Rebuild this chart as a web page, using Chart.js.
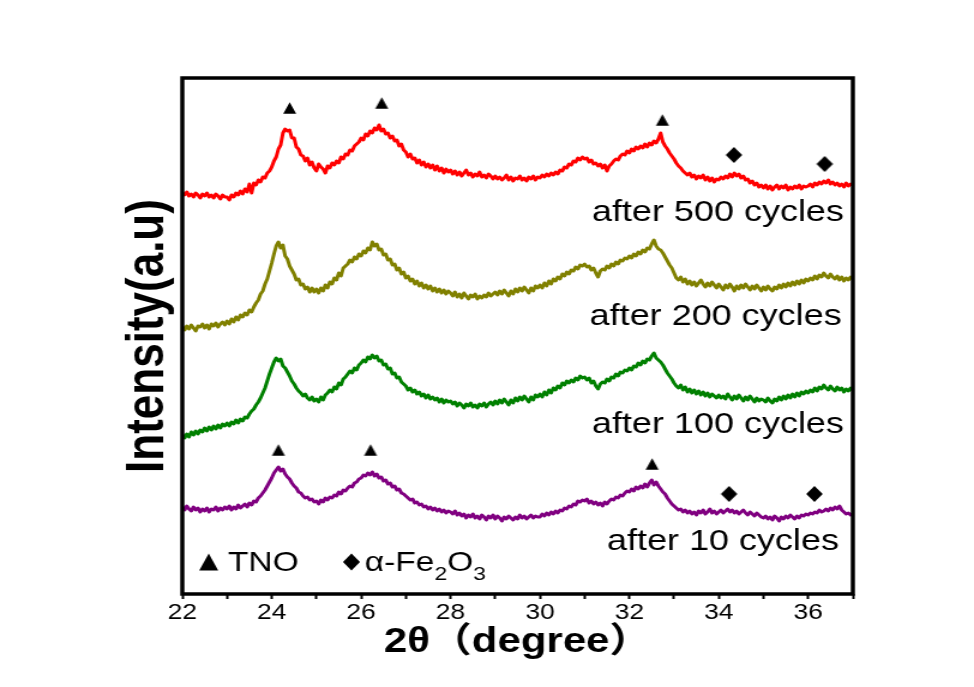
<!DOCTYPE html>
<html>
<head>
<meta charset="utf-8">
<script src="https://cdn.jsdelivr.net/npm/chart.js@4/dist/chart.umd.min.js"></script>
<style>
  html, body { margin: 0; padding: 0; background: #fff; overflow: hidden; }
  #xrd { display: block; }
</style>
</head>
<body>
<!-- the drawing is rendered narrow and widened to the page width -->
<canvas id="xrd" width="812" height="687" style="width:974px;height:687px"></canvas>
<script>
// ---- scan grid (2θ, degrees) ----
const SCAN_START = 22;
const SCAN_STEP = 0.05;

// ---- patterns, relative intensity per scan step (a.u.) ----
const cycles10 = [
  17,14,18,15,13,17,14,16,12,15,13,16,12,15,14,17,13,16,14,17,
  15,18,14,17,15,19,16,18,20,17,21,19,23,22,26,28,31,34,38,42,
  46,51,54,57,53,55,50,47,45,41,38,36,32,31,28,26,27,24,25,22,
  23,20,24,22,26,24,27,26,29,28,32,30,34,33,36,38,37,41,42,45,
  46,49,48,51,49,52,48,50,46,47,43,44,40,41,37,38,34,35,31,30,
  28,26,24,25,21,22,19,20,17,18,15,17,14,16,13,15,12,14,11,13,
  12,10,13,9,11,8,10,6,9,7,10,6,8,5,9,7,4,8,6,9,
  5,8,6,3,7,5,8,6,4,7,5,9,6,8,5,7,9,6,8,7,
  7,10,8,11,9,12,10,13,11,14,13,16,15,18,17,20,19,23,22,24,
  23,25,21,23,20,22,19,21,18,22,20,23,25,24,27,26,29,28,31,33,
  32,35,33,37,35,38,36,40,37,41,44,39,42,38,35,32,30,26,23,20,
  18,16,14,15,12,14,11,13,10,12,9,13,11,14,10,12,15,11,13,10,
  12,14,11,13,15,12,14,11,13,10,12,14,11,9,12,10,8,11,9,7,
  6,8,5,7,4,8,6,3,7,5,8,6,9,7,5,8,6,9,8,10,
  9,11,10,12,11,14,12,13,15,13,16,14,17,15,18,14,12,10,11,9,
  10
];
const cycles100 = [
  9,6,10,7,12,9,13,10,14,12,16,13,17,14,18,15,19,16,20,18,
  21,18,22,20,24,21,25,23,27,26,30,33,35,39,42,46,51,56,63,70,
  76,82,86,83,85,78,76,72,68,63,60,56,53,51,48,50,46,44,47,43,
  45,42,47,44,49,51,54,52,57,55,61,59,65,67,70,73,71,76,74,79,
  81,84,82,87,85,89,86,88,83,84,79,80,75,76,70,71,66,67,62,60,
  58,54,56,52,54,50,52,48,50,46,49,45,47,44,46,42,45,41,44,42,
  43,40,42,38,41,39,36,40,38,41,37,39,36,40,38,41,37,40,42,39,
  43,40,44,41,45,42,39,44,41,46,43,47,44,48,45,42,47,44,49,47,
  50,47,52,49,54,51,56,54,58,56,61,59,63,61,64,62,66,64,68,66,
  67,64,66,61,63,58,55,60,62,61,65,63,67,66,70,68,72,71,74,73,
  76,74,78,77,81,79,83,81,85,84,88,91,86,84,82,79,75,71,68,65,
  61,58,56,59,54,57,52,55,51,54,50,53,49,52,48,51,47,50,48,46,
  49,46,48,45,50,47,44,48,45,49,46,43,47,44,48,45,42,46,43,45,
  44,42,46,43,41,45,43,47,44,48,45,49,46,50,47,51,48,52,50,53,
  51,54,52,56,53,57,55,59,56,54,58,55,53,57,54,56,52,55,53,56,
  54
];
const cycles200 = [
  7,4,8,5,9,6,3,8,7,10,6,9,5,10,8,11,7,10,12,9,
  13,10,15,12,17,14,19,17,21,19,24,22,27,31,34,40,43,50,55,63,
  71,80,88,92,86,89,78,75,68,64,60,54,55,49,50,45,47,42,46,42,
  45,41,46,43,49,46,52,50,56,54,61,58,66,68,70,74,72,77,75,80,
  78,83,81,86,84,92,88,90,84,85,79,80,74,75,69,70,64,66,60,62,
  56,58,53,55,50,53,48,51,46,49,45,48,43,46,42,45,41,44,40,43,
  41,38,42,37,40,36,41,38,35,39,37,40,35,38,36,39,37,41,38,40,
  42,39,43,40,44,41,38,43,40,45,42,46,43,47,44,41,46,43,48,46,
  49,46,51,48,53,50,55,53,57,55,60,58,62,60,64,63,67,65,69,68,
  70,67,68,64,66,61,57,63,65,64,68,66,70,68,72,70,74,73,76,75,
  78,76,80,78,82,80,84,82,86,85,90,94,88,85,84,81,77,73,69,66,
  61,56,54,57,52,55,50,53,49,52,48,51,54,50,47,51,48,52,49,46,
  50,47,44,49,46,50,47,43,48,45,49,46,50,47,44,48,45,49,46,43,
  47,44,48,45,43,47,45,49,46,50,47,51,48,52,49,53,50,54,51,55,
  53,56,54,58,55,59,57,61,58,56,60,57,55,58,54,57,53,56,54,57,
  55
];
const cycles500 = [
  11,9,12,8,10,7,11,9,6,10,8,11,7,9,6,10,8,5,9,7,
  7,4,9,7,11,9,13,10,15,12,20,11,21,19,24,22,27,26,31,33,
  37,43,47,55,59,71,75,73,74,66,66,57,55,49,48,43,46,39,42,36,
  33,40,37,35,31,38,36,41,39,43,41,47,45,50,49,54,53,58,60,62,
  66,64,70,68,73,71,76,74,79,73,75,70,71,66,68,63,64,58,60,54,
  52,47,50,45,46,41,44,39,42,37,40,36,39,34,38,33,36,31,35,32,
  34,30,33,29,32,28,31,34,29,31,27,30,28,32,27,29,26,30,28,25,
  28,25,27,24,26,29,24,27,23,26,25,28,24,26,23,27,25,28,24,27,
  26,29,27,30,28,31,29,32,30,34,33,37,36,40,39,43,42,46,44,47,
  45,46,42,44,40,41,38,40,36,39,33,38,40,43,45,44,48,50,49,53,
  51,55,53,57,55,58,56,60,57,61,59,63,61,65,71,62,58,55,51,48,
  45,41,38,36,33,31,29,31,27,29,25,28,26,29,24,27,23,26,22,25,
  24,27,25,28,26,30,27,31,28,30,26,28,24,25,21,23,19,21,17,19,
  16,19,15,18,14,17,19,15,18,16,19,14,17,15,18,16,19,15,18,17,
  18,20,17,21,19,22,20,23,21,24,20,22,19,21,18,20,17,21,18,20,
  19
];

// vertical stacking of the patterns (a.u.)
const stackOffsets = [70, 150, 260, 390];
const patternNames = ['after 10 cycles', 'after 100 cycles', 'after 200 cycles', 'after 500 cycles'];
const patternColors = ['#800080', '#008000', '#808000', '#ff0000'];

// ---- indexed reflections (2θ, stacked intensity) ----
const tno10Angles = [24.15, 26.21, 32.51];
const tno10Heights = [144, 144, 130];
const fe10Angles = [34.23, 36.14];
const fe10Heights = [100, 100];
const tno500Angles = [24.40, 26.46, 32.74];
const tno500Heights = [486, 491, 474];
const fe500Angles = [34.34, 36.37];
const fe500Heights = [439, 430];

// x ticks
const tickStart = 22, tickEnd = 37;

// where each pattern name sits (right end, in data units)
const nameAngles = [36.69, 36.80, 36.75, 36.80];
const nameHeights = [52.5, 169.5, 277.5, 381.5];

// ---- drawing helpers ----
const WIDEN = 974 / 812;                  // horizontal widening of the canvas
const FONT = '"Liberation Sans", Arial, "Noto Sans CJK SC", sans-serif';

function toPoints(values, offset) {
  return values.map((v, i) => ({ x: +(SCAN_START + i * SCAN_STEP).toFixed(2), y: v + offset }));
}
function toMarks(angles, heights) {
  return angles.map((a, i) => ({ x: a, y: heights[i] }));
}
// marker glyph pre-narrowed so that it keeps its proportions once widened
function glyph(shape, w, h) {
  const c = document.createElement('canvas');
  const cw = w / WIDEN;
  c.width = Math.ceil(cw) + 2;
  c.height = Math.ceil(h) + 2;
  const g = c.getContext('2d');
  const cx = c.width / 2, cy = c.height / 2;
  g.fillStyle = '#000';
  g.beginPath();
  if (shape === 'tri') {
    g.moveTo(cx, cy - h / 2);
    g.lineTo(cx + cw / 2, cy + h / 2);
    g.lineTo(cx - cw / 2, cy + h / 2);
  } else {
    g.moveTo(cx, cy - h / 2);
    g.lineTo(cx + cw / 2, cy);
    g.lineTo(cx, cy + h / 2);
    g.lineTo(cx - cw / 2, cy);
  }
  g.closePath();
  g.fill();
  return c;
}
function drawGlyph(ctx, shape, x, y, w, h) {
  const cw = w / WIDEN;
  ctx.beginPath();
  if (shape === 'tri') {
    ctx.moveTo(x, y - h / 2);
    ctx.lineTo(x + cw / 2, y + h / 2);
    ctx.lineTo(x - cw / 2, y + h / 2);
  } else {
    ctx.moveTo(x, y - h / 2);
    ctx.lineTo(x + cw / 2, y);
    ctx.lineTo(x, y + h / 2);
    ctx.lineTo(x - cw / 2, y);
  }
  ctx.closePath();
  ctx.fill();
}

const triangle = glyph('tri', 13, 11.5);
const diamond = glyph('dia', 16.5, 16);

const patterns = [cycles10, cycles100, cycles200, cycles500];
const lineSets = patterns.map((vals, k) => ({
  type: 'line',
  label: patternNames[k],
  data: toPoints(vals, stackOffsets[k]),
  borderColor: patternColors[k],
  borderWidth: 3,
  borderJoinStyle: 'round',
  pointRadius: 0,
  tension: 0
}));
const markSets = [
  [tno10Angles, tno10Heights, triangle],
  [fe10Angles, fe10Heights, diamond],
  [tno500Angles, tno500Heights, triangle],
  [fe500Angles, fe500Heights, diamond]
].map(([a, h, style]) => ({
  type: 'scatter',
  data: toMarks(a, h),
  pointStyle: style,
  pointRadius: 8,
  backgroundColor: '#000',
  borderColor: '#000'
}));

// frame round the plotting area
const frame = {
  id: 'frame',
  afterDraw(chart) {
    const { ctx, chartArea: a } = chart;
    ctx.save();
    ctx.strokeStyle = '#000';
    ctx.lineWidth = 3.5;
    ctx.strokeRect(a.left, a.top, a.right - a.left, a.bottom - a.top);
    ctx.restore();
  }
};

// pattern names under each curve
const names = {
  id: 'names',
  afterDraw(chart) {
    const { ctx, scales: { x, y } } = chart;
    ctx.save();
    ctx.fillStyle = '#000';
    ctx.font = '30px ' + FONT;
    ctx.textAlign = 'right';
    ctx.textBaseline = 'middle';
    patternNames.forEach((t, k) => {
      ctx.fillText(t, x.getPixelForValue(nameAngles[k]), y.getPixelForValue(nameHeights[k]));
    });
    ctx.restore();
  }
};

// phase key in the lower left corner
const phaseKey = {
  id: 'phaseKey',
  afterDraw(chart) {
    const { ctx, chartArea: a } = chart;
    const base = a.bottom - 23;
    ctx.save();
    ctx.fillStyle = '#000';
    drawGlyph(ctx, 'tri', a.left + 22, base - 9, 19, 17);
    ctx.textBaseline = 'alphabetic';
    ctx.textAlign = 'left';
    ctx.font = '28px ' + FONT;
    ctx.fillText('TNO', a.left + 38, base);
    drawGlyph(ctx, 'dia', a.left + 141, base - 9, 17, 17);
    let cx = a.left + 152;
    const parts = [['α-Fe', 0], ['2', 1], ['O', 0], ['3', 1]];
    parts.forEach(([t, sub]) => {
      ctx.font = (sub ? '19px ' : '28px ') + FONT;
      ctx.fillText(t, cx, base + (sub ? 9 : 0));
      cx += ctx.measureText(t).width;
    });
    ctx.restore();
  }
};

new Chart(document.getElementById('xrd'), {
  data: { datasets: [...lineSets, ...markSets] },
  options: {
    responsive: false,
    devicePixelRatio: 1,
    animation: false,
    events: [],
    layout: { padding: { left: 0, right: 101, top: 78, bottom: 0 } },
    plugins: { legend: { display: false }, tooltip: { enabled: false } },
    scales: {
      x: {
        type: 'linear',
        min: tickStart,
        max: tickEnd,
        afterFit(s) { s.height = 93; },
        border: { display: false },
        grid: {
          drawOnChartArea: false,
          drawTicks: true,
          tickLength: 5,
          tickWidth: 2,
          tickColor: '#000',
          color: '#000'
        },
        ticks: {
          stepSize: 1,
          autoSkip: false,
          maxRotation: 0,
          padding: 1,
          color: '#000',
          font: { family: FONT, size: 22 },
          callback: v => (v % 2 === 0 ? String(v) : '')
        },
        title: {
          display: true,
          text: '2θ（degree）',
          color: '#000',
          font: { family: FONT, size: 35, weight: 'bold' },
          padding: { top: 0, bottom: 24 }
        }
      },
      y: {
        type: 'linear',
        min: 0,
        max: 516,
        afterFit(s) { s.width = 152; },
        border: { display: false },
        grid: { display: false },
        ticks: { display: false },
        title: {
          display: true,
          text: 'Intensity(a.u)',
          color: '#000',
          font: { family: FONT, size: 44, weight: 'bold' },
          padding: { top: 97, bottom: 0 }
        }
      }
    }
  },
  plugins: [frame, names, phaseKey]
});
</script>
</body>
</html>
